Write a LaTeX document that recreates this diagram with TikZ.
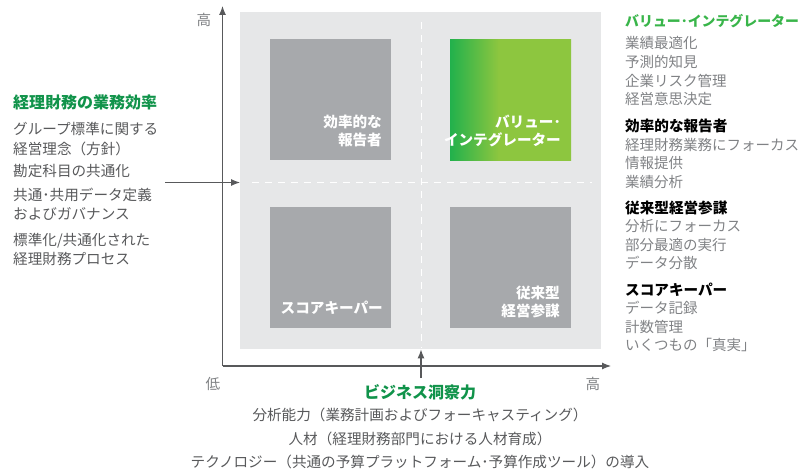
\documentclass[tikz,border=0pt]{standalone}
\usepackage{fontspec}
\setmainfont{Noto Sans CJK JP}
\usetikzlibrary{arrows.meta}
\definecolor{bgc}{HTML}{E6E7E8}
\definecolor{boxc}{HTML}{A7A9AC}
\definecolor{txt}{HTML}{58595B}
\definecolor{lt}{HTML}{808285}
\definecolor{gdark}{HTML}{10934A}
\definecolor{glight}{HTML}{39B54A}
\definecolor{gA}{HTML}{22B14C}
\definecolor{gB}{HTML}{8DC63F}
\definecolor{axc}{HTML}{58595B}
\pgfdeclarehorizontalshading{gshade}{100bp}{color(0bp)=(gA); color(25bp)=(gA); color(45bp)=(gB); color(100bp)=(gB)}
\tikzset{
  lbl/.style={anchor=west, inner sep=0pt, text=txt, font=\fontsize{14.6}{19}\selectfont},
  rlbl/.style={anchor=west, inner sep=0pt, text=lt, font=\fontsize{14.5}{19}\selectfont},
  rhead/.style={anchor=west, inner sep=0pt, text=black, font=\fontsize{14.6}{19}\selectfont\bfseries},
  quad/.style={anchor=north west, inner sep=0pt, minimum width=121pt, minimum height=121pt},
  qtext/.style={inner sep=0pt, text=white, align=right, font=\fontsize{14.6}{18.5}\selectfont\bfseries},
  arr/.style={draw=axc, line width=1.1pt, -{Latex[length=9pt,width=7pt]}},
  dsh/.style={draw=white, line width=1pt, dash pattern=on 7pt off 6pt},
  axl/.style={inner sep=0pt, text=lt, font=\fontsize{14.6}{18}\selectfont},
  btl/.style={inner sep=0pt, text=txt, font=\fontsize{14.6}{19}\selectfont},
}
\begin{document}
\begin{tikzpicture}[x=1pt,y=-1pt]
\useasboundingbox (0,0) rectangle (804,473);
% background panel
\node[anchor=north west, inner sep=0pt, fill=bgc, minimum width=361pt, minimum height=337pt] (bg) at (240,12) {};
% dashed dividers
\coordinate (dv1) at (421,22);
\coordinate (dv2) at (421,348);
\coordinate (dh1) at (252,182.5);
\coordinate (dh2) at (592,182.5);
\draw[dsh] (dv1) -- (dv2);
\draw[dsh] (dh1) -- (dh2);
% quadrant boxes
\node[quad, fill=boxc] (tl) at (270,39) {};
\node[quad, shading=gshade] (tr) at (450,39) {};
\node[quad, fill=boxc] (bl) at (270,207) {};
\node[quad, fill=boxc] (br) at (450,207) {};
\node[qtext, anchor=east] (tlt) at (382,131) {効率的な\\報告者};
\node[qtext, anchor=east] (trt) at (561,131) {バリュー･\\インテグレーター};
\node[qtext, anchor=east] (blt) at (383,308) {スコアキーパー};
\node[qtext, anchor=east] (brt) at (560,302) {従来型\\経営参謀};
% axes
\coordinate (org) at (222.5,366);
\coordinate (ytop) at (222.5,6);
\coordinate (xend) at (611,366);
\draw[arr] (org) -- (ytop);
\draw[arr] (org) -- (xend);
\node[axl] (yhi) at (204,20) {高};
\node[axl] (xlo) at (213,384) {低};
\node[axl] (xhi) at (593,384) {高};
% left arrow
\coordinate (la) at (165,182.5);
\draw[arr] (la) -- (la -| bg.west);
% bottom arrow
\coordinate (ba) at (421,378);
\draw[arr] (ba) -- (ba |- bg.south);
% left text block
\node[anchor=west, inner sep=0pt, text=gdark, font=\fontsize{16}{19}\selectfont\bfseries] (lt0) at (13,102) {経理財務の業務効率};
\node[lbl] (lt1) at (13,129) {グループ標準に関する};
\node[lbl] (lt2) at (13,149) {経営理念（方針）};
\node[lbl] (lt3) at (13,171) {勘定科目の共通化};
\node[lbl] (lt4) at (13,195) {共通･共用データ定義};
\node[lbl] (lt5) at (13,214) {およびガバナンス};
\node[lbl] (lt6) at (13,241) {標準化/共通化された};
\node[lbl] (lt7) at (13,259) {経理財務プロセス};
% right text block
\node[anchor=west, inner sep=0pt, text=glight, font=\fontsize{13.9}{19}\selectfont\bfseries] (rt0) at (625,21) {バリュー･インテグレーター};
\node[rlbl] (rt1) at (625,43) {業績最適化};
\node[rlbl] (rt2) at (625,62) {予測的知見};
\node[rlbl] (rt3) at (625,81) {企業リスク管理};
\node[rlbl] (rt4) at (625,99) {経営意思決定};
\node[rhead] (rt5) at (625,126) {効率的な報告者};
\node[rlbl] (rt6) at (625,145) {経理財務業務にフォーカス};
\node[rlbl] (rt7) at (625,163) {情報提供};
\node[rlbl] (rt8) at (625,182) {業績分析};
\node[rhead] (rt9) at (625,208) {従来型経営参謀};
\node[rlbl] (rt10) at (625,226) {分析にフォーカス};
\node[rlbl] (rt11) at (625,245) {部分最適の実行};
\node[rlbl] (rt12) at (625,263) {データ分散};
\node[rhead] (rt13) at (625,290) {スコアキーパー};
\node[rlbl] (rt14) at (625,308) {データ記録};
\node[rlbl] (rt15) at (625,327) {計数管理};
\node[rlbl] (rt16) at (625,345) {いくつもの「真実」};
% bottom text block
\node[inner sep=0pt, text=gdark, font=\fontsize{16}{19}\selectfont\bfseries] (bt0) at (420,392) {ビジネス洞察力};
\node[btl] (bt1) at (420,415) {分析能力（業務計画およびフォーキャスティング）};
\node[btl] (bt2) at (420,439) {人材（経理財務部門における人材育成）};
\node[btl] (bt3) at (420,462) {テクノロジー（共通の予算プラットフォーム･予算作成ツール）の導入};
\end{tikzpicture}
\end{document}
